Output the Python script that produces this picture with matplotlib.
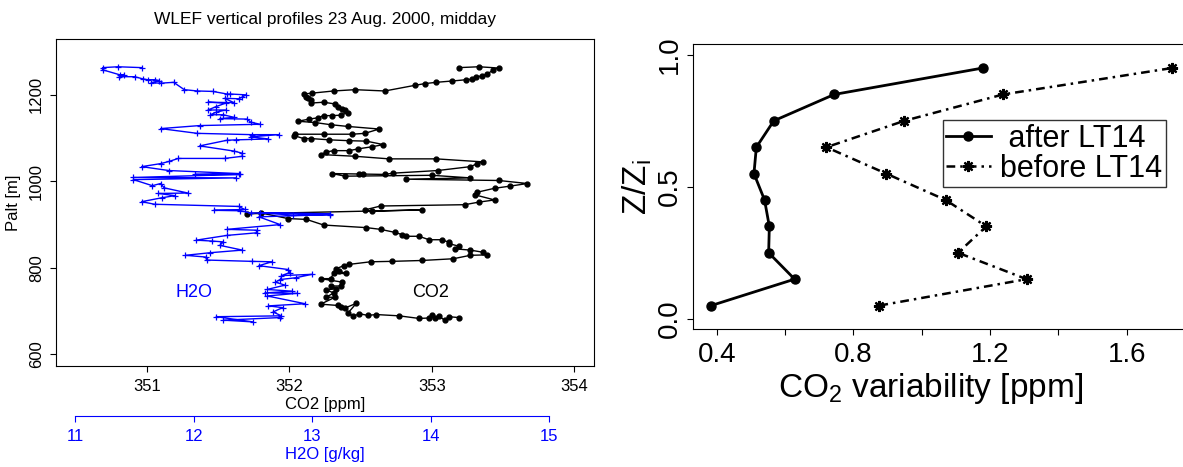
import matplotlib
matplotlib.use('Agg')
import matplotlib.pyplot as plt

plt.rcParams['font.family'] = ['Liberation Sans', 'DejaVu Sans']
plt.rcParams['mathtext.default'] = 'regular'

# WLEF aircraft profile, CO2 (ppm) vs altitude (m), in flight order
co2_ppm = [353.19, 353.33, 353.47, 353.43, 353.39, 353.35, 353.31, 353.28, 353.24, 353.14,
           353.03, 352.95, 352.88, 352.67, 352.46, 352.31, 352.16, 352.10, 352.12, 352.13,
           352.15, 352.15, 352.24, 352.32, 352.34, 352.37, 352.39, 352.41, 352.36, 352.30,
           352.24, 352.20, 352.14, 352.06, 352.18, 352.29, 352.41, 352.63, 352.53, 352.44,
           352.24, 352.04, 352.03, 352.10, 352.15, 352.28, 352.42, 352.54, 352.66, 352.58,
           352.48, 352.42, 352.31, 352.26, 352.22, 352.46, 352.70, 353.03, 353.36, 353.32,
           353.27, 353.04, 352.73, 352.67, 352.52, 352.49, 352.30, 352.39, 353.00, 353.27,
           352.82, 353.47, 353.67, 353.55, 353.44, 353.32, 353.30, 353.44, 353.33, 353.23,
           352.64, 352.53, 352.58, 352.93, 351.70, 351.80, 351.99, 352.12, 352.24, 352.54,
           352.64, 352.74, 352.79, 352.82, 352.91, 352.98, 353.07, 353.12, 353.12, 353.19,
           353.16, 353.27, 353.36, 353.39, 353.27, 353.15, 352.93, 352.72, 352.57, 352.42,
           352.38, 352.33, 352.35, 352.40, 352.31, 352.29, 352.22, 352.37, 352.36, 352.29,
           352.33, 352.26, 352.31, 352.26, 352.32, 352.22, 352.34, 352.36, 352.39, 352.47,
           352.41, 352.45, 352.49, 352.55, 352.61, 352.77, 352.91, 352.98, 353.00, 353.02,
           353.05, 353.09, 353.12, 353.19]
co2_alt = [1263, 1265, 1262, 1258, 1248, 1244, 1241, 1236, 1235, 1232,
           1229, 1226, 1222, 1209, 1212, 1209, 1204, 1202, 1196, 1192,
           1189, 1181, 1183, 1179, 1173, 1167, 1164, 1159, 1153, 1152,
           1152, 1147, 1144, 1139, 1136, 1131, 1127, 1121, 1111, 1109,
           1109, 1109, 1106, 1099, 1099, 1096, 1094, 1093, 1085, 1080,
           1075, 1071, 1071, 1068, 1062, 1058, 1052, 1052, 1045, 1041,
           1034, 1025, 1019, 1016, 1017, 1017, 1018, 1012, 1014, 1008,
           1005, 1002, 995, 989, 984, 975, 969, 957, 952, 946,
           943, 934, 931, 934, 925, 927, 914, 912, 899, 893,
           889, 882, 877, 873, 873, 865, 865, 859, 856, 850,
           844, 841, 836, 830, 829, 821, 817, 815, 814, 808,
           805, 798, 792, 787, 787, 775, 775, 767, 758, 758,
           752, 749, 742, 732, 732, 716, 713, 710, 707, 718,
           695, 688, 694, 690, 692, 689, 683, 684, 690, 683,
           688, 679, 687, 685]

# H2O (g/kg) vs altitude (m)
h2o_gkg = [11.56, 11.36, 11.23, 11.23, 11.38, 11.41, 11.37, 11.50, 11.57, 11.61,
           11.67, 11.71, 11.64, 11.72, 11.83, 11.92, 12.03, 12.16, 12.28, 12.31,
           12.44, 12.41, 12.38, 12.26, 12.34, 12.12, 12.27, 12.19, 12.12, 12.27,
           12.19, 12.14, 12.25, 12.34, 12.22, 12.45, 12.48, 12.56, 12.05, 11.72,
           12.03, 12.49, 12.72, 12.48, 12.63, 12.36, 12.28, 12.05, 12.34, 12.41,
           12.41, 12.26, 11.87, 11.79, 11.72, 11.56, 11.79, 12.38, 12.01, 12.39,
           11.49, 12.36, 11.49, 11.65, 11.72, 11.75, 11.95, 11.70, 11.84, 11.73,
           11.56, 11.67, 12.38, 12.43, 12.17, 12.39, 12.48, 13.15, 12.56, 12.84,
           13.15, 12.55, 12.73, 12.28, 12.53, 12.53, 12.28, 12.02, 12.15, 12.25,
           12.22, 12.41, 12.14, 11.93, 12.10, 12.11, 12.49, 12.66, 12.55, 12.80,
           12.81, 12.74, 13.00, 12.86, 12.73, 12.69, 12.77, 12.62, 12.83, 12.60,
           12.87, 12.62, 12.94, 12.63, 12.75, 12.67, 12.74, 12.19, 12.50, 12.25,
           12.73]
h2o_alt = [1263, 1265, 1263, 1258, 1246, 1247, 1242, 1242, 1237, 1235,
           1235, 1233, 1228, 1227, 1229, 1212, 1209, 1208, 1202, 1202,
           1200, 1195, 1191, 1192, 1182, 1183, 1181, 1173, 1165, 1165,
           1160, 1154, 1154, 1148, 1145, 1144, 1137, 1132, 1129, 1122,
           1111, 1108, 1108, 1103, 1098, 1096, 1095, 1082, 1070, 1065,
           1058, 1053, 1053, 1046, 1041, 1034, 1025, 1018, 1016, 1016,
           1009, 1008, 1004, 990, 995, 985, 973, 972, 967, 962,
           953, 947, 942, 935, 933, 932, 927, 925, 927, 922,
           923, 918, 900, 889, 887, 881, 875, 864, 862, 860,
           852, 841, 835, 829, 825, 818, 815, 814, 805, 796,
           789, 782, 785, 777, 773, 767, 760, 750, 746, 742,
           741, 735, 717, 712, 708, 698, 689, 687, 675, 679,
           685]

# CO2 variability vs normalised height
zzi = [0.05, 0.15, 0.25, 0.35, 0.45, 0.55, 0.65, 0.75, 0.85, 0.95]
after_lt14 = [0.384, 0.628, 0.552, 0.554, 0.540, 0.509, 0.516, 0.567, 0.744, 1.178]
before_lt14 = [0.876, 1.307, 1.106, 1.189, 1.070, 0.896, 0.721, 0.949, 1.238, 1.732]

W, H = 1183, 467
fig = plt.figure(figsize=(W / 100, H / 100), dpi=100)

# ---- left panel: profiles
ax = fig.add_axes([55.7 / W, 1 - 366 / H, (594.3 - 55.7) / W, (366 - 39.3) / H])
ax.plot(co2_ppm, co2_alt, color='black', lw=1, marker='o', ms=3.5)
ax.set_xlim(350.36, 354.14)
ax.set_ylim(573, 1328.5)
ax.set_xticks([351, 352, 353, 354])
ax.set_yticks([600, 800, 1000, 1200])
ax.tick_params(direction='out', length=4.3, width=0.8, labelsize=12, pad=5)
ax.tick_params(axis='y', labelrotation=90, pad=4)
plt.setp(ax.get_yticklabels(), va='center')
ax.set_xlabel('CO2 [ppm]', fontsize=12, labelpad=2)
ax.set_ylabel('Palt [m]', fontsize=12, labelpad=6)
ax.set_title('WLEF vertical profiles 23 Aug. 2000, midday', fontsize=12.5, pad=11)
ax.text(351.33, 742, 'H2O', color='blue', fontsize=13, ha='center', va='center')
ax.text(352.99, 742, 'CO2', color='black', fontsize=13, ha='center', va='center')

ax2 = ax.twiny()
ax2.plot(h2o_gkg, h2o_alt, color='blue', lw=1, marker='+', ms=4, mew=0.9)
ax2.set_xlim(10.834, 15.383)
ax2.xaxis.set_ticks_position('bottom')
ax2.xaxis.set_label_position('bottom')
for s in ['top', 'left', 'right']:
    ax2.spines[s].set_visible(False)
ax2.spines['bottom'].set_position(('outward', 36))
ax2.spines['bottom'].set_bounds(11, 15)
ax2.spines['bottom'].set_color('blue')
ax2.set_xticks([11, 12, 13, 14, 15])
ax2.tick_params(axis='x', colors='blue', direction='out', length=4.3, width=0.8,
                labelsize=12, pad=5)
ax2.set_xlabel('H2O [g/kg]', color='blue', fontsize=12, labelpad=2)

# ---- right panel: variability
bx = fig.add_axes([693.3 / W, 1 - 329.3 / H, (1190 - 693.3) / W, (329.3 - 44.3) / H])
bx.plot(after_lt14, zzi, color='black', lw=2, marker='o', ms=6.5, label=' after LT14')
bx.plot(before_lt14, zzi, color='black', lw=1.8, ls=(0, (3.5, 2, 1, 2)),
        marker=(8, 2, 0), ms=8, mew=1.6, label='before LT14')
bx.set_xlim(0.3315, 1.785)
bx.set_ylim(-0.04, 1.04)
bx.set_xticks([0.4, 0.6, 0.8, 1.0, 1.2, 1.4, 1.6])
bx.set_xticklabels(['0.4', '', '0.8', '', '1.2', '', '1.6'])
bx.set_yticks([0.0, 0.5, 1.0])
bx.set_yticklabels(['0.0', '0.5', '1.0'])
bx.tick_params(direction='out', length=4.3, width=0.8, labelsize=20, pad=5)
bx.tick_params(axis='y', labelrotation=90, pad=3)
plt.setp(bx.get_yticklabels(), va='center')
bx.set_xlabel(r'CO$_2$ variability [ppm]', fontsize=24)
bx.xaxis.set_label_coords(0.478, -0.145)
bx.set_ylabel(r'Z/Z$_i$', fontsize=24)
bx.yaxis.set_label_coords(-0.08, 0.5)
leg = bx.legend(loc='upper left', bbox_to_anchor=(0.502, 0.734), borderaxespad=0,
                fontsize=22, frameon=True, fancybox=False, handlelength=1.45,
                handletextpad=0.3, labelspacing=0.0, borderpad=0.12)
leg.get_frame().set_edgecolor('black')
leg.get_frame().set_linewidth(1)

fig.savefig('out.png', dpi=100)
